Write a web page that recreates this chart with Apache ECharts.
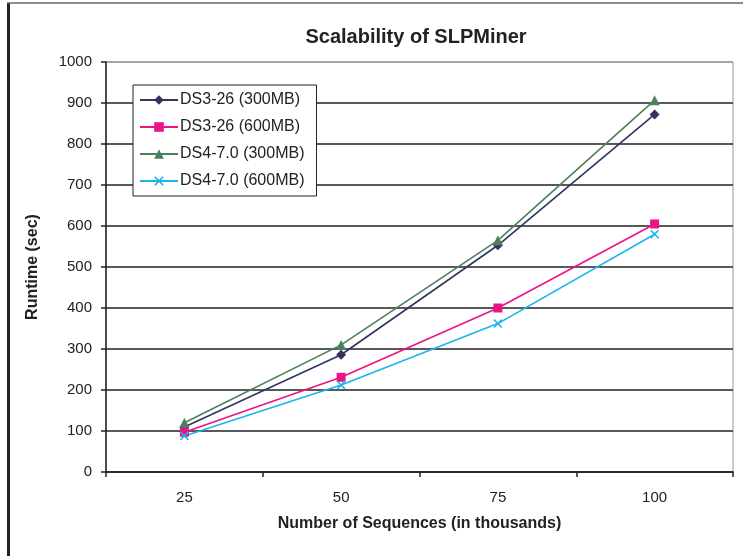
<!DOCTYPE html>
<html>
<head>
<meta charset="utf-8">
<script src="https://cdn.jsdelivr.net/npm/echarts@6/dist/echarts.min.js"></script>
<style>html,body{margin:0;padding:0;background:#fff}#c{width:743px;height:556px}</style>
</head>
<body>
<div id="c"></div>
<script>
var categories = ['25', '50', '75', '100'];
var ds3_300 = [110, 286, 553, 872];
var ds3_600 = [97, 231, 400, 605];
var ds4_300 = [120, 310, 565, 907];
var ds4_600 = [88, 212, 362, 580];
var seriesNames = ['DS3-26 (300MB)', 'DS3-26 (600MB)', 'DS4-7.0 (300MB)', 'DS4-7.0 (600MB)'];

var FONT = 'Liberation Sans, Arial, sans-serif';
var xSym = 'path://M0,1.2L1.2,0L5,3.8L8.8,0L10,1.2L6.2,5L10,8.8L8.8,10L5,6.2L1.2,10L0,8.8L3.8,5Z';
var chart = echarts.init(document.getElementById('c'));
function mk(name, data, color, symbol, size) {
  return {
    name: name, type: 'line', data: data, symbol: symbol, symbolSize: size,
    lineStyle: {color: color, width: 1.6}, itemStyle: {color: color},
    emphasis: {disabled: true}, animation: false
  };
}
var gridColors = ['#222','#222','#222','#222','#222','#222','#222','#222','#222','#222','#999'];
chart.setOption({
  animation: false,
  title: {
    text: 'Scalability of SLPMiner', left: 411, top: 22, textAlign: 'center',
    textStyle: {fontFamily: FONT, fontSize: 20, fontWeight: 'bold', color: '#222'}
  },
  grid: {left: 106, right: 10, top: 62, bottom: 84, show: true, borderColor: '#999', borderWidth: 1},
  legend: {
    orient: 'vertical', left: 133, top: 85, width: 184,
    padding: [7, 12, 7, 6], itemGap: 11, itemWidth: 38, itemHeight: 12,
    borderColor: '#222', borderWidth: 1, backgroundColor: '#fff',
    textStyle: {fontFamily: FONT, fontSize: 16, color: '#222', padding: [0, 0, 0, -3]},
    data: seriesNames
  },
  xAxis: {
    type: 'category', data: categories, boundaryGap: true,
    name: 'Number of Sequences (in thousands)', nameLocation: 'middle', nameGap: 44,
    nameTextStyle: {fontFamily: FONT, fontSize: 16, fontWeight: 'bold', color: '#222'},
    axisLine: {lineStyle: {color: '#222', width: 1.5}},
    axisTick: {show: true, length: 5, lineStyle: {color: '#222', width: 1.5}},
    axisLabel: {fontFamily: FONT, fontSize: 15, color: '#222', margin: 18},
    splitLine: {show: false}
  },
  yAxis: {
    type: 'value', min: 0, max: 1000, interval: 100,
    name: 'Runtime (sec)', nameLocation: 'middle', nameGap: 65, nameRotate: 90,
    nameTextStyle: {fontFamily: FONT, fontSize: 16, fontWeight: 'bold', color: '#222'},
    axisLine: {show: true, lineStyle: {color: '#222', width: 1.5}},
    axisTick: {show: true, length: 5, lineStyle: {color: '#222', width: 1.5}},
    axisLabel: {fontFamily: FONT, fontSize: 15, color: '#222', margin: 14,
      formatter: function (v) { return String(v); }},
    splitLine: {show: true, lineStyle: {color: gridColors, width: 1.6}}
  },
  series: [
    mk(seriesNames[0], ds3_300, '#33345f', 'diamond', 10),
    mk(seriesNames[1], ds3_600, '#ec1384', 'rect', 9),
    mk(seriesNames[2], ds4_300, '#4c7f5c', 'triangle', 10),
    mk(seriesNames[3], ds4_600, '#1cb4ec', xSym, 9)
  ],
  graphic: [
    {type: 'line', shape: {x1: 8.5, y1: 3, x2: 8.5, y2: 556}, style: {stroke: '#222', lineWidth: 3}},
    {type: 'line', shape: {x1: 7, y1: 3, x2: 743, y2: 3}, style: {stroke: '#666', lineWidth: 1.5}}
  ]
});
</script>
</body>
</html>
